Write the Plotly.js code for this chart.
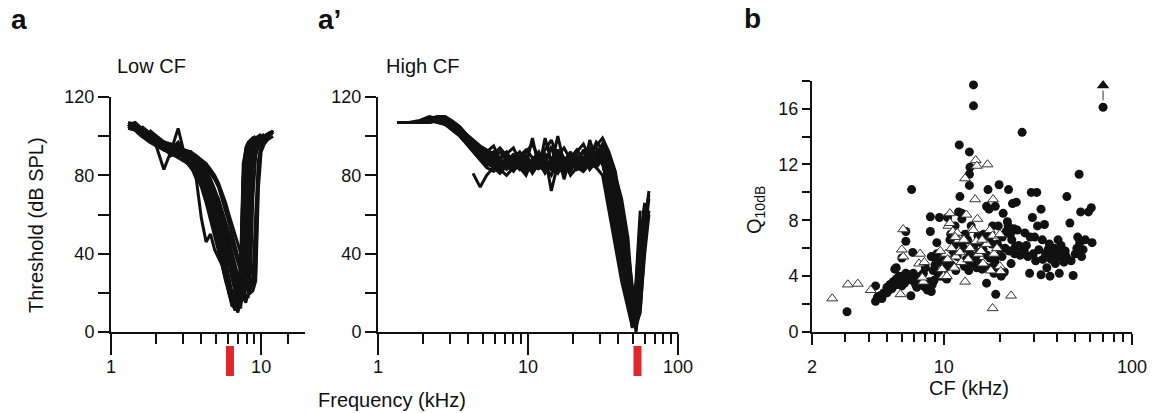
<!DOCTYPE html>
<html>
<head>
<meta charset="utf-8">
<script src="https://cdn.plot.ly/plotly-3.0.1.min.js"></script>
<style>html,body{margin:0;padding:0;background:#fff;}#chart{width:1152px;height:413px;}</style>
</head>
<body>
<div id="chart"></div>
<script>
// ---------- Panel a : Low CF tuning curves (frequency kHz, threshold dB SPL) ----------
var lowFreq = [1.3,1.45,1.6,1.8,2.0, 2.25,2.5,2.8,3.1,3.4, 3.7,4.0,4.3,4.6,4.9, 5.2,5.5,5.8,6.1,6.4, 6.7,7.0,7.3,7.6,7.9, 8.2,8.5,8.8,9.2,9.6, 10,10.5,11,11.5,12];
var lowCurve1  = [106,107,104,101,99, 97,94,96,91,92, 87,84,78,74,64, 58,46,38,24,16, 12,16,30,72,90, 94,96,97,98,99, 100,100,101,102,101];
var lowCurve2  = [null,105,103,100,97, 93,95,90,92,86, 85,80,74,64,57, 46,40,30,20,15, 16,22,32,80,93, 96,97,99,98,100, null,null,null,null,null];
var lowCurve3  = [105,104,101,99,96, 95,92,91,89,88, 86,83,80,76,70, 64,58,50,42,33, 25,18,14,20,45, 75,90,95,97,98, 99,100,100,101,102];
var lowCurve4  = [106,105,102,99,96, 94,92,104,90,87, 84,79,73,66,58, 49,40,30,22,18, 20,26,33,86,93, 95,96,97,98,null, null,null,null,null,null];
var lowCurve5  = [104,103,100,98,95, 83,92,90,91,86, 83,80,75,68,61, 53,44,35,27,20, 14,10,16,38,66, 86,93,95,96,97, 98,99,100,101,null];
var lowCurve6  = [null,null,104,101,98, 97,95,93,92,91, 89,87,84,81,78, 74,68,62,56,50, 44,38,32,28,24, 22,20,21,26,74, 92,96,98,99,100];
var lowCurve7  = [null,106,104,101,98, 96,95,93,90,86, 82,76,70,62,52, 44,38,28,20,13, 15,20,28,60,88, 95,97,98,99,100, 101,null,null,null,null];
var lowCurve8  = [105,103,100,97,95, 93,91,89,87,85, 82,78,74,69,64, 58,52,46,40,34, 28,24,19,16,22, 48,80,92,96,98, 99,100,101,null,null];
var lowCurve9  = [null,104,102,100,98, 96,94,92,89,85, 78,58,46,50,42, 38,34,26,20,18, 19,24,30,78,94, 97,98,99,null,null, null,null,null,null,null];
var lowCurve10 = [106,105,103,100,98, 96,95,93,91,90, 88,85,82,78,73, 67,60,53,46,40, 34,29,25,21,18, 18,30,68,90,95, 97,99,100,101,103];
var lowCurve11 = [107,106,103,100,97, 95,93,97,92,89, 86,82,77,71,65, 61,55,48,40,32, 26,22,28,56,84, 93,95,97,98,99, 100,101,null,null,null];
var lowCurve12 = [null,null,105,102,99, 97,94,92,88,84, 80,74,66,57,48, 40,33,27,23,21, 20,22,28,50,82, 92,95,97,98,null, null,null,null,null,null];
var lowCurve13 = [null,105,102,99,97, 95,93,91,90,88, 86,84,80,77,72, 68,62,56,50,45, 40,35,31,27,24, 22,22,25,60,88, 95,97,99,100,null];
var lowCurve14 = [null,null,null,103,100, 97,96,94,93,92, 90,88,86,83,80, 76,71,66,60,55, 50,45,40,36,32, 29,27,25,30,85, 95,98,99,101,102];
var lowCurve15 = [106,104,102,98,97, 94,93,90,92,86, 84,80,77,72,67, 62,55,50,44,38, 33,28,22,18,15, 20,62,88,95,97, 98,100,null,null,null];
var lowCurve16 = [105,106,101,99,96, 95,90,92,88,84, 81,77,70,64,56, 48,40,31,22,15, 11,14,24,66,90, 96,98,99,100,null, null,null,null,null,null];
var lowCurve17 = [null,105,103,100,98, 96,94,92,89,87, 85,81,78,73,68, 63,56,49,43,37, 31,26,22,19,34, 70,90,95,97,98, 99,100,101,102,null];
var lowCurve18 = [106,104,103,100,96, 95,94,91,89,87, 83,79,76,70,63, 57,50,43,35,27, 20,15,12,30,74, 92,96,97,98,99, 100,null,null,null,null];
var lowCurves = [lowCurve1,lowCurve2,lowCurve3,lowCurve4,lowCurve5,lowCurve6,lowCurve7,lowCurve8,lowCurve9,
                 lowCurve10,lowCurve11,lowCurve12,lowCurve13,lowCurve14,lowCurve15,lowCurve16,lowCurve17,lowCurve18];
var lowCFmark = 6.2;

// ---------- Panel a' : High CF tuning curves ----------
var highFreq = [1.35,1.6,1.9,2.2,2.5, 2.8,3.1,3.5,3.9,4.3, 4.8,5.3,5.9,6.5,7.2, 8.0,8.8,9.7,10.7,11.8, 13.0,14.3,15.8,17.4,19.2, 21.2,23.4,25.8,28.5,31.4, 34.6,38.2,42.1,46.4,49.5, 52.5,56.0,60.0,64.0];
var highCurve1 = [107,107,107,109,108, 107,105,101,97,93, 90,88,86,87,84, 88,85,83,86,84, 88,85,87,83,86, 88,84,87,90,86, 72,58,40,20,2, 14,40,65,null];
var highCurve2 = [null,107,107,108,110, 108,106,103,99,95, 92,90,88,85,89, 86,83,87,84,88, 85,95,82,86,89, 85,87,91,94,90, 80,66,50,32,14, 0,20,55,72];
var highCurve3 = [107,107,108,110,109, 106,103,100,96,92, 88,84,82,85,87, 84,86,89,83,86, 84,80,88,85,83, 87,86,89,92,88, 76,62,46,28,5, 26,62,null,null];
var highCurve4 = [null,null,null,null,null, null,null,null,null,81, 74,80,84,82,86, 83,87,84,82,86, 90,72,86,84,87, 83,86,84,88,91, 84,70,54,38,16, 3,30,60,null];
var highCurve5 = [107,107,107,108,107, 106,104,102,98,94, 91,88,90,86,83, 86,89,85,99,84, 87,83,85,88,84, 86,82,98,88,86, 74,56,36,14,4, 22,50,null,null];
var highCurve6 = [null,null,107,109,110, 109,107,104,100,96, 93,91,89,92,88, 85,88,90,86,83, 99,87,84,81,85, 89,87,84,89,92, 86,74,60,42,24, 3,10,45,62];
var highCurve7 = [107,107,107,108,109, 108,106,103,100,97, 94,92,87,84,88, 90,85,82,84,87, 81,85,100,86,88, 84,82,86,90,94, 88,78,60,38,8, 18,48,66,null];
var highCurve8 = [null,null,null,107,108, 107,105,101,97,93, 89,86,84,81,85, 82,86,84,88,85, 82,86,83,87,80, 84,88,85,86,90, 82,66,48,30,12, 1,26,58,70];
var highCurve9 = [107,107,107,108,109, 108,105,101,96,92, 88,85,87,83,80, 84,88,82,85,91, 86,83,89,85,82, 88,92,86,84,80, 62,42,26,12,3, 15,45,null,null];
var highCurve10 = [null,null,null,108,110, 110,108,105,101,97, 94,92,95,88,91, 94,87,92,96,89, 93,98,90,94,88, 92,96,89,97,93, 85,70,56,40,22, 2,18,50,68];
var highCurve11 = [107,107,107,108,108, 107,106,104,100,96, 92,89,86,89,92, 86,84,80,88,92, 84,88,91,78,90, 86,93,88,84,88, 68,50,34,18,6, 24,56,null,null];
var highCurve12 = [null,null,107,108,109, 108,106,103,99,95, 91,88,84,88,86, 91,83,88,84,90, 87,83,93,89,85, 90,84,94,91,96, 90,80,68,48,20, 4,12,40,60];
var highCurve13 = [107,107,107,107,108, 108,107,104,100,97, 93,90,92,87,84, 89,92,87,81,86, 89,84,81,87,92, 85,89,83,87,89, 78,60,44,28,10, 8,36,64,null];
var highCurve14 = [null,107,107,108,109, 109,107,104,101,98, 95,93,91,94,90, 87,90,93,89,86, 91,88,93,84,89, 93,88,91,95,99, 92,82,62,36,14, 2,22,52,null];
var highCurves = [highCurve1,highCurve2,highCurve3,highCurve4,highCurve5,highCurve6,highCurve7,
                  highCurve8,highCurve9,highCurve10,highCurve11,highCurve12,highCurve13,highCurve14];
var highCFmark = 53.7;

// ---------- Panel b : Q10dB vs CF ----------
var circCF = [
 3.07,4.35,4.35,4.45,4.6,4.7,4.8,5.0,5.0,5.1,
 5.2,5.3,5.4,5.45,5.5,5.6,5.6,5.7,5.75,5.8,
 5.9,6.0,6.0,6.1,6.2,6.3,6.3,6.3,6.5,6.6,
 6.7,6.76,6.8,6.85,6.9,6.0,7.0,7.1,7.2,7.4,
 7.6,7.8,8.0,8.2,8.4,8.5,8.5,8.6,8.7,8.8,
 8.6,8.9,9.0,9.2,9.2,9.3,9.5,9.4,9.6,9.8,
 10.0,10.2,10.4,10.2,10.5,10.6,10.8,10.9,11.0,11.2,
 11.4,11.6,11.8,12.1,12.2,12.5,12.5,12.4,12.6,12.8,
 12.9,13.2,13.0,13.4,13.7,13.8,13.7,13.7,13.6,13.8,
 14.0,14.2,14.4,14.4,14.5,14.6,15.0,15.2,15.4,15.6,
 16.0,16.2,16.5,16.9,16.9,17.2,17.0,17.4,17.6,17.8,
 18.2,18.0,18.8,18.9,18.7,19.0,19.3,19.7,19.5,19.9,
 20.2,20.4,20.7,20.5,21.0,21.2,21.5,22.1,22.0,22.3,
 22.6,22.8,23.2,23.0,23.6,24.0,24.3,24.6,25.0,25.5,
 26.1,26.0,26.8,27.5,28.0,28.6,28.8,29.2,29.6,29.9,
 30.4,30.8,31.2,31.5,32.0,32.9,32.9,33.4,33.6,34.3,
 34.8,35.3,35.8,36.7,36.4,37.2,38.0,38.6,39.2,40.0,
 40.5,41.1,41.5,42.0,42.8,43.5,44.2,45.1,44.8,46.8,
 47.5,48.7,50.0,51.0,51.5,52.0,52.4,52.8,53.4,54.0,
 55.0,58.7,60.8,61.4,56.5,15.8,16.3,14.8,18.5,19.2,
 17.5,7.5,7.8,8.0,9.0,11.5,12.0,21.8,23.8,27.0];
var circQ = [
 1.45,3.3,2.2,2.5,2.6,2.4,2.8,2.8,3.2,3.0,
 3.4,3.1,3.6,3.3,4.5,3.8,4.6,3.7,3.4,4.0,
 3.6,4.0,3.3,3.8,3.5,4.2,7.2,6.5,3.9,4.1,
 2.6,10.2,3.7,5.7,4.2,5.3,3.9,3.4,3.2,3.6,
 3.4,3.3,3.2,3.0,3.6,8.25,7.2,2.9,3.4,4.4,
 5.4,3.7,4.8,6.4,5.6,4.2,8.2,5.0,4.0,4.3,
 5.2,3.9,3.8,4.6,8.2,5.0,6.6,7.0,4.8,5.6,
 6.2,4.4,5.4,13.4,9.7,8.5,8.1,6.4,5.0,6.0,
 4.7,5.2,7.0,6.6,12.9,11.8,11.3,10.5,4.4,5.6,
 7.6,4.9,17.7,16.2,6.2,5.0,4.6,6.9,5.7,4.9,
 4.5,5.9,4.7,9.0,3.5,10.2,5.5,8.8,5.3,4.6,
 7.6,6.3,9.0,2.7,5.0,4.4,6.3,10.55,7.6,6.0,
 4.0,5.4,8.5,6.8,4.3,6.0,7.2,10.2,7.6,5.8,
 7.0,4.9,9.2,6.6,7.4,6.1,9.3,7.3,6.2,5.5,
 14.3,6.0,5.8,6.2,5.4,4.2,6.8,10.0,8.2,5.6,
 6.8,5.1,10.0,7.6,5.9,8.8,4.1,6.6,5.2,7.7,
 5.6,4.6,5.9,4.0,6.3,5.2,5.5,6.0,4.9,5.4,
 6.6,4.2,5.8,6.2,5.3,5.0,5.8,9.7,5.4,7.8,
 5.1,4.05,5.6,6.0,6.8,5.8,11.3,6.4,8.6,5.4,
 5.9,8.6,8.9,6.4,6.6,6.4,7.0,5.4,4.2,5.4,
 6.8,4.0,4.2,4.6,5.3,7.6,8.6,7.9,5.6,7.1];
var outlierCF = [70.2];
var outlierQ = [16.1];
var triCF = [
 2.56,3.1,3.5,4.1,5.9,6.1,6.0,6.1,7.5,7.4,
 7.8,7.7,7.9,9.8,10.0,10.3,10.4,10.6,10.8,10.8,
 11.0,11.2,11.4,11.6,11.8,12.0,12.4,12.8,13.0,13.0,
 13.2,13.5,13.8,14.2,14.4,14.7,14.8,15.0,15.1,14.9,
 15.3,15.8,16.2,16.9,17.1,17.6,17.8,18.2,18.3,18.2,
 18.5,19.2,19.9,19.9,20.1,22.8,10.5,9.6,11.5,12.2,
 16.0];
var triQ = [
 2.4,3.4,3.45,3.0,2.7,7.35,5.9,5.4,5.6,4.9,
 3.6,3.9,5.0,4.5,4.0,5.6,4.0,7.6,7.8,8.5,
 6.0,7.2,4.6,5.4,7.1,6.6,5.0,6.6,11.0,3.6,
 8.4,5.2,6.0,7.4,7.3,9.5,12.3,11.9,8.1,6.5,
 5.6,5.8,4.9,6.3,12.0,7.3,4.4,6.9,9.5,1.7,
 5.6,6.0,7.0,4.7,4.35,2.6,5.2,5.8,6.8,5.7,
 6.6];

// ---------- helpers ----------
var W = 1152, H = 413;
function fx(p){ return p / W; }
function fy(p){ return 1 - p / H; }
var INK = '#111111';
var FONT = 'Liberation Sans, Arial, Helvetica, sans-serif';

var traces = [];
lowCurves.forEach(function(c){
  traces.push({type:'scatter', mode:'lines', x: lowFreq, y: c, xaxis:'x', yaxis:'y',
    line:{color:INK, width:3}, connectgaps:false, hoverinfo:'skip'});
});
highCurves.forEach(function(c){
  traces.push({type:'scatter', mode:'lines', x: highFreq, y: c, xaxis:'x2', yaxis:'y2',
    line:{color:INK, width:3}, connectgaps:false, hoverinfo:'skip'});
});
// red CF markers below the axes
traces.push({type:'scatter', mode:'lines', x:[lowCFmark, lowCFmark], y:[0,1], xaxis:'x', yaxis:'y4',
  line:{color:'#e0262b', width:8}, hoverinfo:'skip'});
traces.push({type:'scatter', mode:'lines', x:[highCFmark, highCFmark], y:[0,1], xaxis:'x2', yaxis:'y5',
  line:{color:'#e0262b', width:8}, hoverinfo:'skip'});
// panel b
traces.push({type:'scatter', mode:'markers', x: circCF.concat(outlierCF), y: circQ.concat(outlierQ), xaxis:'x3', yaxis:'y3',
  marker:{symbol:'circle', size:9, color:INK, line:{width:0}}, cliponaxis:false});
traces.push({type:'scatter', mode:'markers', x: triCF, y: triQ, xaxis:'x3', yaxis:'y3',
  marker:{symbol:'triangle-up', size:9.5, color:'#ffffff', line:{width:1, color:'#333333'}}, cliponaxis:false});
// arrow above the off-scale outlier
traces.push({type:'scatter', mode:'lines', x:[outlierCF[0], outlierCF[0]], y:[outlierQ[0]+0.5, outlierQ[0]+1.2], xaxis:'x3', yaxis:'y3',
  line:{color:'#777777', width:1.5}, cliponaxis:false, hoverinfo:'skip'});
traces.push({type:'scatter', mode:'markers', x:[outlierCF[0]], y:[outlierQ[0]+1.55], xaxis:'x3', yaxis:'y3',
  marker:{symbol:'triangle-up', size:11, color:INK}, cliponaxis:false, hoverinfo:'skip'});

var yDomA = [fy(332), fy(97)];
var yDomB = [fy(332), fy(80.7)];

function xLog(domain, range, major, minor, majorLen, minorLen, standoff){
  return {type:'log', domain: domain, range: range, showline:true, linewidth:2, linecolor:INK,
    ticks:'outside', tickmode:'array', tickvals: major, ticktext: major.map(String),
    ticklen: majorLen, tickwidth:2, tickcolor:INK, showgrid:false, zeroline:false,
    ticklabelstandoff: standoff,
    tickfont:{size:18, color:INK, family:FONT},
    minor:{tickmode:'array', tickvals: minor, ticklen: minorLen, tickwidth:2, tickcolor:INK, ticks:'outside', showgrid:false},
    fixedrange:true};
}
function yLin(domain, anchor, range, major, minor, len){
  return {domain: domain, anchor: anchor, range: range, showline:true, linewidth:2, linecolor:INK,
    ticks:'outside', tickmode:'array', tickvals: major, ticktext: major.map(String),
    ticklen: len, tickwidth:2, tickcolor:INK, showgrid:false, zeroline:false,
    tickfont:{size:18, color:INK, family:FONT},
    minor:{tickmode:'array', tickvals: minor, ticklen: len, tickwidth:2, tickcolor:INK, ticks:'outside', showgrid:false},
    fixedrange:true};
}

var xa = xLog([fx(111), fx(305)], [0, Math.log10(19.6)], [1,10], [2,3,4,5,6,7,8,9,15], 21, 10, -4);
xa.anchor = 'y';
var xa2 = xLog([fx(378), fx(678)], [0, 2], [1,10,100], [2,3,4,5,6,7,8,9,20,30,40,50,60,70,80,90], 21, 10, -4);
xa2.anchor = 'y2';
var xa3 = xLog([fx(812), fx(1132)], [Math.log10(2), 2], [2,10,100], [3,4,5,6,7,8,9,20,30,40,50,60,70,80,90], 11, 8, 6);
xa3.anchor = 'y3';

var layout = {
  width: W, height: H, margin:{l:0, r:0, t:0, b:0, pad:0},
  paper_bgcolor:'#ffffff', plot_bgcolor:'#ffffff', showlegend:false,
  font:{family:FONT, size:18, color:INK},
  xaxis: xa, xaxis2: xa2, xaxis3: xa3,
  yaxis: yLin(yDomA, 'x', [0,120], [0,40,80,120], [20,60,100], 11),
  yaxis2: yLin(yDomA, 'x2', [0,120], [0,40,80,120], [20,60,100], 11),
  yaxis3: yLin(yDomB, 'x3', [0,18], [0,4,8,12,16], [2,6,10,14,18], 8),
  yaxis4: {domain:[fy(376), fy(346)], anchor:'x', range:[0,1], visible:false, fixedrange:true},
  yaxis5: {domain:[fy(376), fy(346)], anchor:'x2', range:[0,1], visible:false, fixedrange:true},
  annotations: [
    {text:'<b>a</b>', x:fx(9), y:fy(20), xref:'paper', yref:'paper', xanchor:'left', yanchor:'middle', showarrow:false, font:{size:28, color:INK, family:FONT}},
    {text:'<b>a\u2019</b>', x:fx(316), y:fy(20), xref:'paper', yref:'paper', xanchor:'left', yanchor:'middle', showarrow:false, font:{size:28, color:INK, family:FONT}},
    {text:'<b>b</b>', x:fx(742), y:fy(18), xref:'paper', yref:'paper', xanchor:'left', yanchor:'middle', showarrow:false, font:{size:28, color:INK, family:FONT}},
    {text:'Low CF', x:fx(115), y:fy(66), xref:'paper', yref:'paper', xanchor:'left', yanchor:'middle', showarrow:false, font:{size:20, color:INK, family:FONT}},
    {text:'High CF', x:fx(384), y:fy(66), xref:'paper', yref:'paper', xanchor:'left', yanchor:'middle', showarrow:false, font:{size:20, color:INK, family:FONT}},
    {text:'Threshold (dB SPL)', x:fx(36), y:fy(225), xref:'paper', yref:'paper', xanchor:'center', yanchor:'middle', textangle:-90, showarrow:false, font:{size:20, color:INK, family:FONT}},
    {text:'Frequency (kHz)', x:fx(392), y:fy(400), xref:'paper', yref:'paper', xanchor:'center', yanchor:'middle', showarrow:false, font:{size:20, color:INK, family:FONT}},
    {text:'CF (kHz)', x:fx(969), y:fy(388), xref:'paper', yref:'paper', xanchor:'center', yanchor:'middle', showarrow:false, font:{size:20, color:INK, family:FONT}},
    {text:'Q<sub>10dB</sub>', x:fx(755), y:fy(210), xref:'paper', yref:'paper', xanchor:'center', yanchor:'middle', textangle:-90, showarrow:false, font:{size:20, color:INK, family:FONT}}
  ]
};

Plotly.newPlot('chart', traces, layout, {staticPlot:true, displayModeBar:false});
</script>
</body>
</html>
